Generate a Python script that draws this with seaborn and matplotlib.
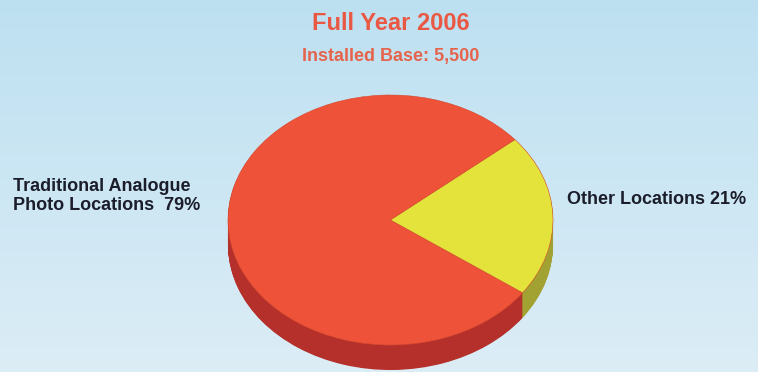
import numpy as np
import matplotlib
matplotlib.use("Agg")
import matplotlib.pyplot as plt
import seaborn as sns

# data
categories = ["Traditional Analogue\nPhoto Locations", "Other Locations"]
shares = [79, 21]
title = "Full Year 2006"
subtitle = "Installed Base: 5,500"

top_colors = ["#ee5238", "#e3e33b"]
side_colors = ["#b5302a", "#a2a232"]

sns.set_style("white")
plt.rcParams["font.family"] = ["Liberation Sans", "DejaVu Sans"]

W, H = 758, 372
fig = plt.figure(figsize=(W / 100, H / 100), dpi=100)

# background gradient (light blue -> paler blue)
bg = fig.add_axes([0, 0, 1, 1])
grad = np.linspace(0, 1, 256).reshape(-1, 1)
cmap = sns.blend_palette(["#bde0f1", "#dcedf6"], as_cmap=True)
bg.imshow(grad, cmap=cmap, aspect="auto", extent=[0, 1, 0, 1], origin="upper")
bg.axis("off")

# pie axes, squashed so the circle becomes an ellipse
ax = fig.add_axes([228 / W, 2 / H, 325 / W, 281.25 / H])
ax.patch.set_alpha(0)
thickness = 0.2
start = 40

# side of the "3D" pie: stacked darker layers
for d in np.linspace(-thickness, 0, 40)[:-1]:
    ax.pie(shares, colors=side_colors, startangle=start, center=(0, d),
           wedgeprops=dict(linewidth=0))

# top face
ax.pie(shares, colors=top_colors, startangle=start, center=(0, 0),
       wedgeprops=dict(linewidth=0.4, edgecolor="#d44a30"))

ax.set_aspect("auto")
ax.set_xlim(-1.0, 1.0)
ax.set_ylim(-1.2, 1.05)
ax.axis("off")

# titles
fig.text(391 / W, 1 - 24 / H, title, ha="center", va="center",
         fontsize=17, fontweight="bold", color="#ea5843")
fig.text(391 / W, 1 - 56 / H, subtitle, ha="center", va="center",
         fontsize=13, fontweight="bold", color="#e6634c")

# slice labels
left_label = f"{categories[0]}  {shares[0]}%"
right_label = f"{categories[1]} {shares[1]}%"
fig.text(13 / W, 1 - 196 / H, left_label, ha="left", va="center",
         fontsize=13, fontweight="bold", color="#1b1d2b", linespacing=1.08)
fig.text(567 / W, 1 - 200 / H, right_label, ha="left", va="center",
         fontsize=13, fontweight="bold", color="#1b1d2b")

fig.savefig("out.png", dpi=100)
